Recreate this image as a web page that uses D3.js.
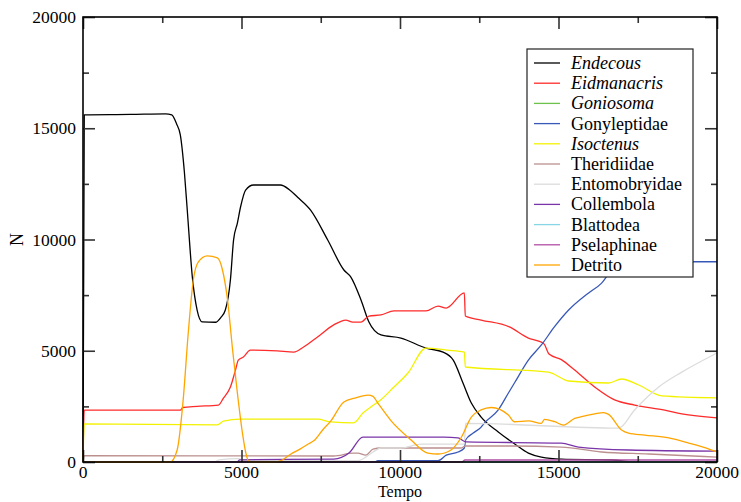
<!DOCTYPE html>
<html>
<head>
<meta charset="utf-8">
<script src="https://cdn.jsdelivr.net/npm/d3@7"></script>
<style>
  html, body { margin: 0; padding: 0; background: #fff; }
  svg { display: block; }
  text { font-family: "Liberation Serif", "Times New Roman", serif; fill: #000; }
</style>
</head>
<body>
<svg id="chart" width="741" height="502"></svg>
<script>
// Population size N over simulated time (Tempo), one series per group.
const xTicks = [0, 5000, 10000, 15000, 20000];
const yTicks = [0, 5000, 10000, 15000, 20000];

const endecous = [[0,0],[40,15600],[1500,15620],[2600,15650],[2800,15600],[2950,15200],[3070,14700],[3200,13000],[3290,11300],[3450,8300],[3600,6830],[3760,6300],[4180,6280],[4350,6500],[4490,6830],[4650,8180],[4750,9980],[4870,10740],[4970,11460],[5130,12220],[5380,12450],[6230,12450],[6500,12250],[6770,11900],[7180,11320],[7720,9980],[8230,8630],[8450,8310],[8770,7280],[9020,6290],[9400,5710],[10030,5570],[10820,5120],[11360,4940],[11680,4580],[11990,3540],[12250,2650],[12560,2020],[13100,1350],[13610,820],[14050,400],[14460,220],[15090,130],[16680,90],[17400,10],[20000,0]];

const eidmanacris = [[0,0],[40,2330],[3070,2330],[3150,2450],[3600,2500],[4270,2560],[4430,2870],[4650,3370],[4810,4130],[4900,4580],[5060,4720],[5280,5030],[6130,4990],[6650,4940],[6960,5170],[7400,5620],[7910,6160],[8290,6380],[8510,6290],[8770,6290],[9020,6560],[9400,6610],[9810,6790],[10820,6790],[11200,7010],[11460,6920],[12030,7600],[12060,6560],[12560,6380],[13450,6070],[14050,5570],[14400,5420],[14550,5300],[14700,4850],[15090,4600],[15510,4130],[16140,3370],[16770,2790],[17400,2560],[18350,2330],[18890,2160],[20000,1980]];

const goniosoma = [[0,0],[20000,0]];

const gonyleptidae = [[0,0],[9200,0],[9300,60],[11200,60],[11460,310],[11830,450],[12030,630],[12070,990],[12310,1300],[12560,1570],[12660,1750],[13100,2340],[13420,3100],[13610,3550],[14050,4580],[14460,5260],[14870,6070],[15320,6830],[15950,7600],[16360,8040],[16680,8630],[17200,8950],[17600,9000],[20000,9000]];

const isoctenus = [[0,0],[40,1710],[4240,1670],[4430,1840],[4970,1930],[7400,1930],[7820,1800],[8540,1760],[8830,2200],[9080,2470],[9400,2800],[9810,3370],[10250,4000],[10820,5120],[11500,5030],[12030,4940],[12060,4270],[14680,4040],[15320,3640],[16580,3550],[16990,3730],[17530,3460],[18260,2970],[20000,2880]];

const theridiidae = [[0,0],[40,280],[7910,270],[8510,400],[8670,400],[8920,310],[9150,580],[9400,630],[11930,630],[12060,720],[13510,720],[15090,670],[16360,450],[17850,360],[20000,220]];

const entomobryidae = [[0,0],[4150,0],[4300,100],[4900,150],[5100,60],[8670,60],[9150,450],[9400,630],[10030,630],[10660,800],[12030,800],[12070,1740],[16900,1520],[17400,2340],[18160,3370],[18890,4040],[20000,4900]];

const collembola = [[0,0],[4850,0],[4950,100],[7910,130],[8390,400],[8830,1120],[11390,1120],[11830,1080],[12090,900],[15090,850],[15630,670],[17210,540],[20000,490]];

const blattodea = [[0,0],[20000,0]];

const pselaphinae = [[0,0],[11950,0],[12050,90],[20000,90]];

const detrito = [[0,0],[2750,0],[2970,540],[3160,2790],[3320,5800],[3480,8180],[3640,8990],[3920,9260],[4240,9170],[4400,8630],[4560,7280],[4720,5030],[4870,3100],[5030,1300],[5130,450],[5250,0],[6080,0],[6230,50],[6550,350],[6870,600],[7090,800],[7280,950],[7560,1440],[7820,1850],[8230,2700],[8610,2880],[8990,3010],[9150,2950],[9300,2650],[9720,1850],[10350,990],[10880,400],[11200,360],[11610,540],[11930,1100],[12250,2020],[12560,2340],[12880,2450],[13420,2110],[13610,1810],[14050,1850],[14460,1740],[14560,1920],[14880,1810],[15160,1660],[15510,1960],[15730,2040],[16140,2160],[16420,2220],[16580,2140],[16990,1440],[17210,1300],[17720,1210],[18480,1080],[19110,850],[19750,580],[20000,450]];

const seriesNames = ["Endecous","Eidmanacris","Goniosoma","Gonyleptidae","Isoctenus","Theridiidae","Entomobryidae","Collembola","Blattodea","Pselaphinae","Detrito"];
const seriesValues = [endecous, eidmanacris, goniosoma, gonyleptidae, isoctenus, theridiidae, entomobryidae, collembola, blattodea, pselaphinae, detrito];
const seriesColors = ["#000000","#ff2a2a","#6cc24a","#3858b8","#f2f200","#bc8f8f","#dcdcdc","#7a35a8","#86d6e6","#b04fa6","#ffa500"];
const italicNames = ["Endecous","Eidmanacris","Goniosoma","Isoctenus"];

const svg = d3.select("#chart");
const plotLeft = 83, plotRight = 717, plotTop = 17, plotBottom = 462;

const x = d3.scaleLinear().domain([0, 20000]).range([plotLeft, plotRight]);
const y = d3.scaleLinear().domain([0, 20000]).range([plotBottom, plotTop]);

const line = d3.line()
  .x(d => x(d[0]))
  .y(d => y(d[1]))
  .curve(d3.curveMonotoneX);

// data lines
const plot = svg.append("g");
seriesValues.forEach((vals, i) => {
  plot.append("path")
    .datum(vals)
    .attr("d", line)
    .attr("fill", "none")
    .attr("stroke", seriesColors[i])
    .attr("stroke-width", 1.3)
    .attr("stroke-linejoin", "round");
});

// frame with inward ticks on all four sides
const axisG = svg.append("g");
function inwardAxis(axisFn, scale, transform) {
  const major = axisFn(scale).tickValues(xTicks).tickSize(-12).tickFormat("");
  const minor = axisFn(scale).tickValues([2500, 7500, 12500, 17500]).tickSize(-6).tickFormat("");
  [major, minor].forEach(a => {
    const g = axisG.append("g").attr("transform", transform).call(a);
    g.select(".domain").remove();
    g.selectAll("line").attr("stroke", "#333").attr("stroke-width", 1.6);
  });
}
inwardAxis(d3.axisBottom, x, `translate(0,${plotBottom})`);
inwardAxis(d3.axisTop, x, `translate(0,${plotTop})`);
inwardAxis(d3.axisLeft, y, `translate(${plotLeft},0)`);
inwardAxis(d3.axisRight, y, `translate(${plotRight},0)`);

axisG.append("rect")
  .attr("x", plotLeft).attr("y", plotTop)
  .attr("width", plotRight - plotLeft).attr("height", plotBottom - plotTop)
  .attr("fill", "none").attr("stroke", "#000").attr("stroke-width", 1.6);

// tick labels
svg.append("g").selectAll("text").data(xTicks).join("text")
  .attr("x", d => x(d)).attr("y", 478)
  .attr("text-anchor", "middle")
  .attr("font-size", 17.5)
  .text(d => d);

svg.append("g").selectAll("text").data(yTicks).join("text")
  .attr("x", 76).attr("y", d => y(d) + 6)
  .attr("text-anchor", "end")
  .attr("font-size", 17.5)
  .text(d => d);

// axis titles
svg.append("text")
  .attr("x", x(10000)).attr("y", 497)
  .attr("text-anchor", "middle")
  .attr("font-size", 16)
  .text("Tempo");

svg.append("text")
  .attr("transform", `translate(23,${y(10000)}) rotate(-90)`)
  .attr("text-anchor", "middle")
  .attr("font-size", 18)
  .text("N");

// legend
const legend = svg.append("g");
legend.append("rect")
  .attr("x", 527).attr("y", 49).attr("width", 166).attr("height", 228)
  .attr("fill", "#fff").attr("stroke", "#222").attr("stroke-width", 1.2);

seriesNames.forEach((name, i) => {
  const cy = 63 + i * 20.2;
  legend.append("line")
    .attr("x1", 534).attr("x2", 560).attr("y1", cy).attr("y2", cy)
    .attr("stroke", seriesColors[i]).attr("stroke-width", 1.3);
  legend.append("text")
    .attr("x", 571).attr("y", cy + 6)
    .attr("font-size", 18)
    .attr("font-style", italicNames.includes(name) ? "italic" : "normal")
    .text(name);
});
</script>
</body>
</html>
